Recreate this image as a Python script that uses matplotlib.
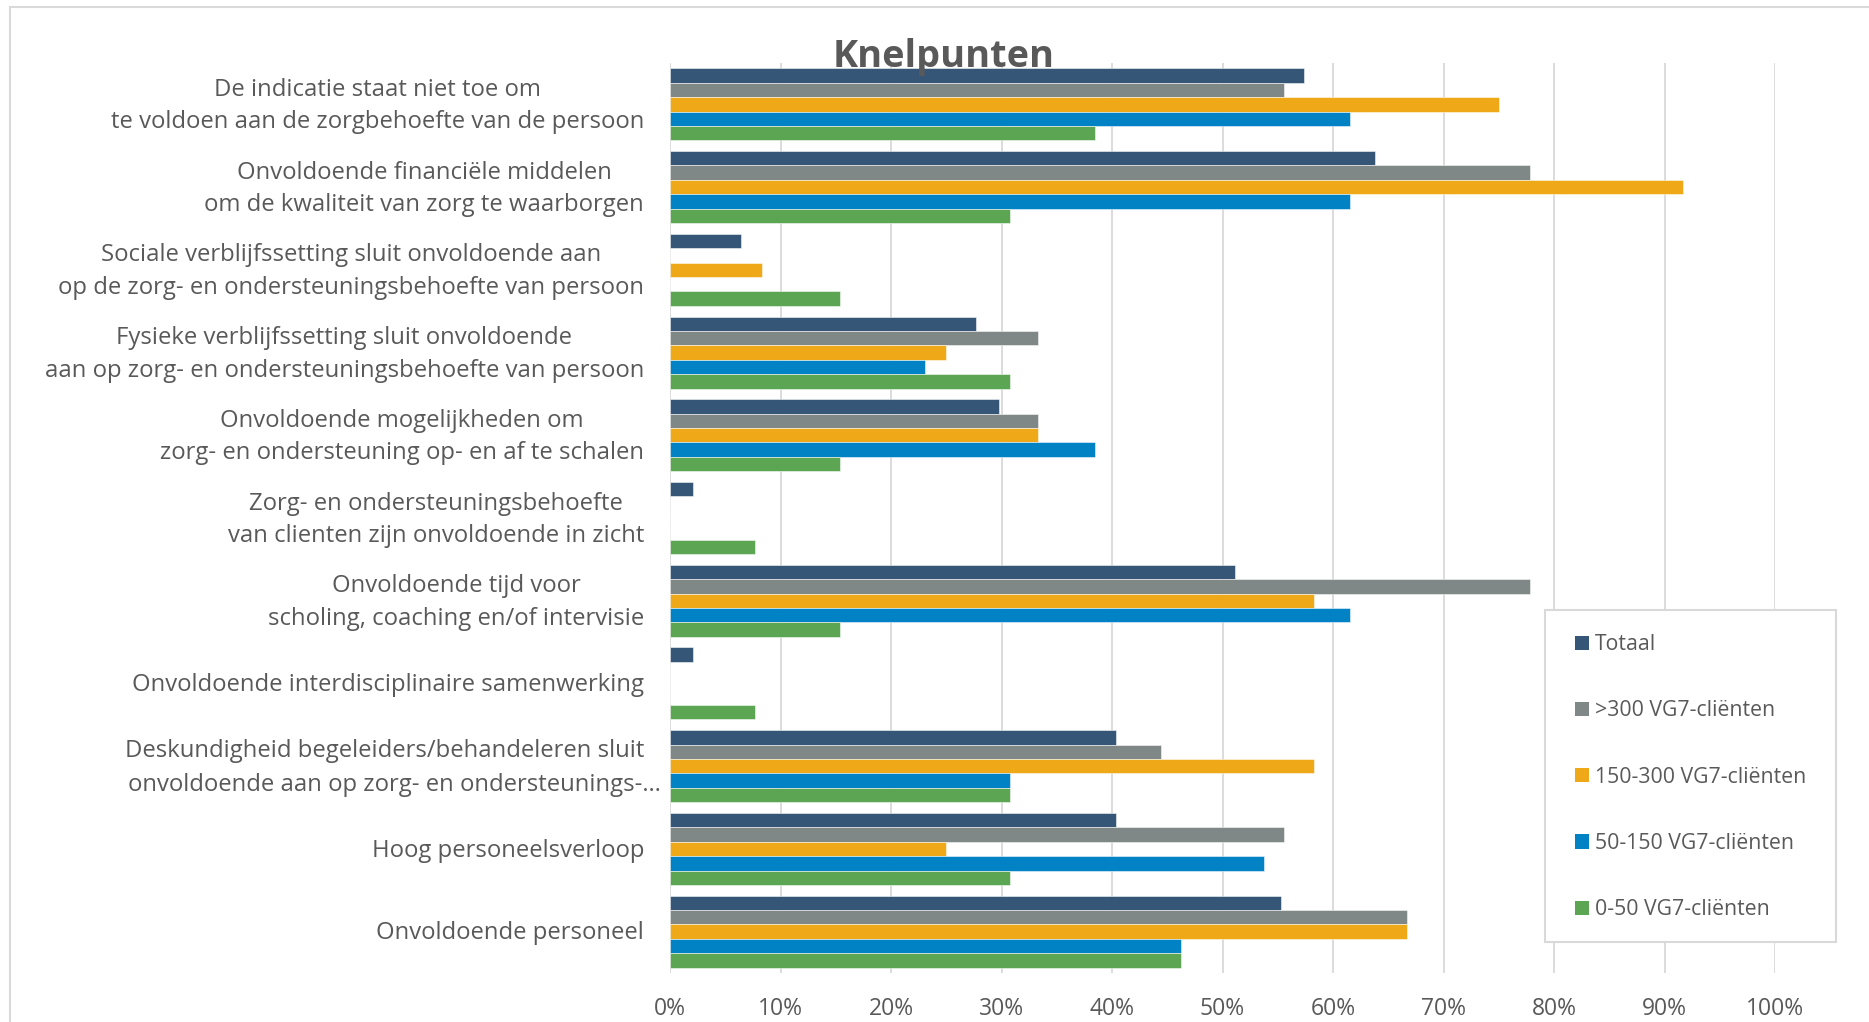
import matplotlib
matplotlib.use("Agg")
import matplotlib.pyplot as plt
from matplotlib.patches import Rectangle, Patch
import numpy as np

categories = [
    "De indicatie staat niet toe om\nte voldoen aan de zorgbehoefte van de persoon",
    "Onvoldoende financiële middelen\nom de kwaliteit van zorg te waarborgen",
    "Sociale verblijfssetting sluit onvoldoende aan\nop de zorg- en ondersteuningsbehoefte van persoon",
    "Fysieke verblijfssetting sluit onvoldoende\naan op zorg- en ondersteuningsbehoefte van persoon",
    "Onvoldoende mogelijkheden om\nzorg- en ondersteuning op- en af te schalen",
    "Zorg- en ondersteuningsbehoefte\nvan clienten zijn onvoldoende in zicht",
    "Onvoldoende tijd voor\nscholing, coaching en/of intervisie",
    "Onvoldoende interdisciplinaire samenwerking",
    "Deskundigheid begeleiders/behandeleren sluit\nonvoldoende aan op zorg- en ondersteunings-…",
    "Hoog personeelsverloop",
    "Onvoldoende personeel",
]

series_names = ["Totaal", ">300 VG7-cliënten", "150-300 VG7-cliënten",
                "50-150 VG7-cliënten", "0-50 VG7-cliënten"]

totaal   = [57.4, 63.8, 6.4, 27.7, 29.8, 2.1, 51.1, 2.1, 40.4, 40.4, 55.3]
gt300    = [55.6, 77.8, 0.0, 33.3, 33.3, 0.0, 77.8, 0.0, 44.4, 55.6, 66.7]
r150_300 = [75.0, 91.7, 8.3, 25.0, 33.3, 0.0, 58.3, 0.0, 58.3, 25.0, 66.7]
r50_150  = [61.5, 61.5, 0.0, 23.1, 38.5, 0.0, 61.5, 0.0, 30.8, 53.8, 46.2]
r0_50    = [38.5, 30.8, 15.4, 30.8, 15.4, 7.7, 15.4, 7.7, 30.8, 30.8, 46.2]

series = [totaal, gt300, r150_300, r50_150, r0_50]
colors = ["#355677", "#7F8787", "#EFA918", "#0082C4", "#5BA553"]

xticks = [0, 10, 20, 30, 40, 50, 60, 70, 80, 90, 100]
xticklabels = [f"{t}%" for t in xticks]

TXT = "#595959"
FONT = "Open Sans"
plt.rcParams["font.family"] = [FONT, "DejaVu Sans"]

W, H = 1869, 1022
fig = plt.figure(figsize=(W / 100, H / 100), dpi=100)
fig.patch.set_facecolor("white")

# outer chart border
fig.patches.append(Rectangle((10 / W, -0.1), 1.2, 1 - 7 / H + 0.1, transform=fig.transFigure,
                             fill=False, edgecolor="#D9D9D9", linewidth=1.5, zorder=0))

left, right = 670 / W, 1775 / W
bottom, top = 1 - 973 / H, 1 - 63 / H
ax = fig.add_axes([left, bottom, right - left, top - bottom])
axw_px = 1775 - 670

n = len(categories)
y = np.arange(n)
h = 0.174
for i, (vals, c, name) in enumerate(zip(series, colors, series_names)):
    ax.barh(y + (i - 2) * h, vals, height=h, color=c, label=name,
            edgecolor=(1, 1, 1, 0.6), linewidth=0.6, zorder=3)

ax.set_ylim(n - 0.5, -0.5)
ax.set_xlim(0, 100)
ax.set_xticks(xticks)
ax.set_xticklabels(xticklabels, color=TXT, fontsize=16.5)
ax.tick_params(axis="x", length=0, pad=17)
ax.set_yticks([])
ax.grid(axis="x", color="#D9D9D9", linewidth=1.3, zorder=0)
for s in ax.spines.values():
    s.set_visible(False)

trans = ax.get_yaxis_transform()
xlab = -26 / axw_px
dy = 0.022
for yi, lab in zip(y, categories):
    if lab.endswith("…"):
        # truncated label: the ellipsis overflows the label area
        l1, l2 = lab.split("\n")
        half = 0.202
        ax.text(xlab, yi - half + dy, l1, transform=trans, ha="right", va="center",
                fontsize=17.2, color=TXT)
        ax.text(xlab + 17 / axw_px, yi + half + dy, l2, transform=trans, ha="right",
                va="center", fontsize=17.2, color=TXT)
    else:
        ax.text(xlab, yi + dy, lab, transform=trans,
                ha="right", va="center", multialignment="center",
                fontsize=17.2, color=TXT, linespacing=1.47)

fig.text(944 / W, 1 - 57 / H, "Knelpunten", ha="center", va="center",
         fontsize=27.3, fontweight="bold", color=TXT, fontstretch="condensed")

# legend frame
lx0, ly0, lx1, ly1 = 1545, 610, 1836, 942
fig.patches.append(Rectangle((lx0 / W, 1 - ly1 / H), (lx1 - lx0) / W, (ly1 - ly0) / H,
                             transform=fig.transFigure, facecolor="white",
                             edgecolor="#D9D9D9", linewidth=1.5, zorder=5))
handles = [Patch(facecolor=c, edgecolor="none") for c in colors]
leg = fig.legend(handles, series_names, loc="upper left",
                 bbox_to_anchor=(1556 / W, 1 - 615 / H), frameon=False,
                 fontsize=15.3, handlelength=0.65, handleheight=0.65, handletextpad=0.3,
                 labelspacing=2.13, labelcolor=TXT)
leg.set_zorder(6)

fig.savefig("out.png", dpi=100, facecolor="white")
